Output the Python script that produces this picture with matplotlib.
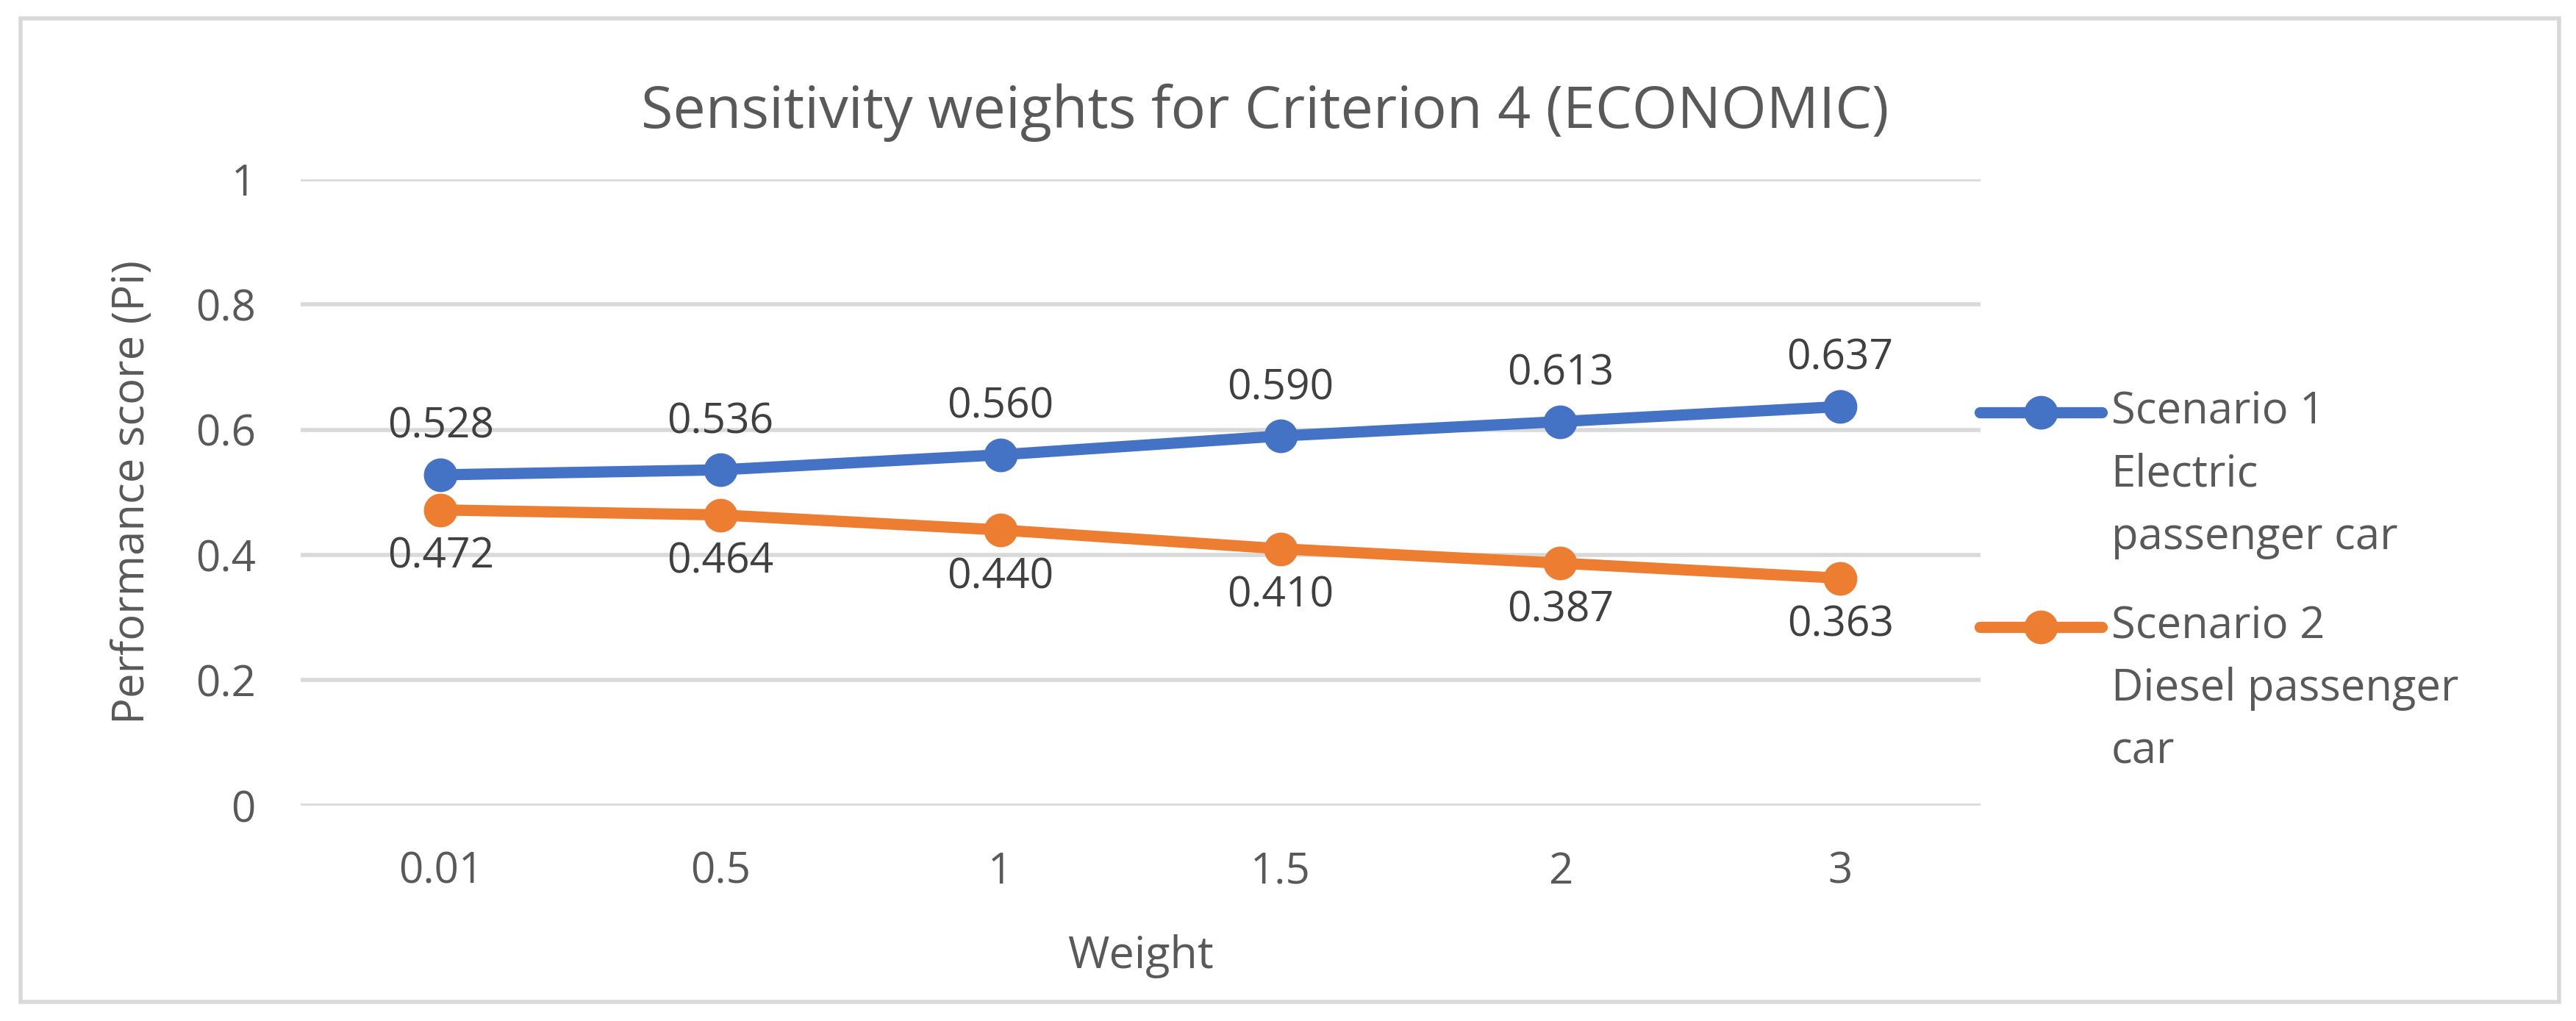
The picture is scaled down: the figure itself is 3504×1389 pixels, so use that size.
import numpy as np
import matplotlib.pyplot as plt
from matplotlib.lines import Line2D
from matplotlib.patches import Rectangle

plt.rcParams['font.family'] = ['Open Sans', 'DejaVu Sans']

# Data
weights = ['0.01', '0.5', '1', '1.5', '2', '3']
scenario_1 = [0.528, 0.536, 0.560, 0.590, 0.613, 0.637]
scenario_2 = [0.472, 0.464, 0.440, 0.410, 0.387, 0.363]
labels = ['Scenario 1\nElectric\npassenger car', 'Scenario 2\nDiesel passenger\ncar']

blue = '#4472C4'
orange = '#ED7D31'
text_col = '#595959'

fig = plt.figure(figsize=(17.52, 6.945), dpi=200)
ax = fig.add_axes([0.1167, 0.211, 0.652, 0.6135])

x = np.arange(len(weights))
ax.plot(x, scenario_1, color=blue, lw=5.5, marker='o', ms=15.5,
        solid_capstyle='round', zorder=3)
ax.plot(x, scenario_2, color=orange, lw=5.5, marker='o', ms=15.5,
        solid_capstyle='round', zorder=3)

for xi, v in zip(x, scenario_1):
    ax.annotate(f'{v:.3f}', (xi, v), xytext=(0, 13), textcoords='offset points',
                ha='center', va='bottom', fontsize=20.5, color='#404040')
for xi, v in zip(x, scenario_2):
    ax.annotate(f'{v:.3f}', (xi, v), xytext=(0, -13), textcoords='offset points',
                ha='center', va='top', fontsize=20.5, color='#404040')

ax.set_xlim(-0.5, len(weights) - 0.5)
ax.set_ylim(0, 1)
ax.set_xticks(x)
ax.set_xticklabels(weights)
ax.set_yticks(np.arange(0, 1.01, 0.2))
ax.set_yticklabels(['0', '0.2', '0.4', '0.6', '0.8', '1'])
ax.tick_params(length=0, labelsize=21, labelcolor=text_col, pad=22)
ax.grid(axis='y', color='#D9D9D9', lw=2)
ax.set_axisbelow(True)
for s in ax.spines.values():
    s.set_visible(False)

ax.set_xlabel('Weight', fontsize=22, color=text_col, labelpad=20)
ax.set_ylabel('Performance score (Pi)', fontsize=21.5, color=text_col, labelpad=20)
fig.text(0.491, 0.89, 'Sensitivity weights for Criterion 4 (ECONOMIC)',
         ha='center', va='center', fontsize=28.5, color=text_col)

# Legend drawn by hand so the multi-line labels sit like the original
for col, lab, yc in zip([blue, orange], labels, [0.596, 0.386]):
    fig.add_artist(Line2D([0.7685, 0.816], [yc, yc], transform=fig.transFigure,
                          color=col, lw=5.5, solid_capstyle='round'))
    fig.add_artist(Line2D([0.7922], [yc], transform=fig.transFigure,
                          color=col, marker='o', ms=15.5))
    fig.text(0.8195, yc + 0.0225, lab, ha='left', va='top', fontsize=21.5,
             color=text_col, linespacing=1.55)

fig.patches.append(Rectangle((0.008, 0.0187), 0.9854, 0.963, transform=fig.transFigure,
                             fill=False, edgecolor='#D9D9D9', lw=2))

fig.savefig('out.png', dpi=200)
